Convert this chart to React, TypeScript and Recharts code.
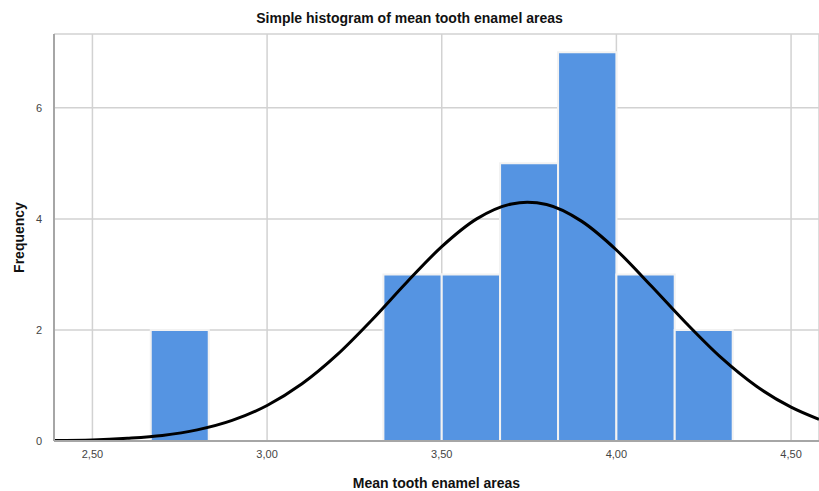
import {
  ComposedChart,
  Line,
  XAxis,
  YAxis,
  CartesianGrid,
  ReferenceArea,
} from "recharts";

// histogram bins (1/6 wide) and their frequencies
const binLow = [2.667, 3.333, 3.5, 3.667, 3.833, 4.0, 4.167];
const binHigh = [2.833, 3.5, 3.667, 3.833, 4.0, 4.167, 4.333];
const binCount = [2, 3, 3, 5, 7, 3, 2];

// normal curve
const curveX = [
  2.39, 2.5, 2.6, 2.7, 2.8, 2.9, 3.0, 3.1, 3.2, 3.3, 3.4, 3.5, 3.6, 3.7,
  3.745, 3.8, 3.9, 4.0, 4.1, 4.2, 4.3, 4.4, 4.5, 4.58,
];
const curveY = [
  0.01, 0.02, 0.05, 0.1, 0.2, 0.37, 0.64, 1.03, 1.55, 2.18, 2.86, 3.5, 4.0,
  4.27, 4.3, 4.26, 3.96, 3.44, 2.79, 2.12, 1.5, 0.99, 0.61, 0.39,
];

const xTicks = [2.5, 3.0, 3.5, 4.0, 4.5];
const yTicks = [0, 2, 4, 6];

const BAR_COLOR = "#5594e2";
const FONT = "'Liberation Sans', Arial, sans-serif";

export default function App() {
  const data = curveX.map((x, i) => ({ x, y: curveY[i] }));

  return (
    <div
      style={{
        position: "absolute",
        left: 0,
        top: 0,
        width: 819,
        height: 491,
        background: "#fff",
        fontFamily: FONT,
      }}
    >
      <div
        style={{
          position: "absolute",
          top: 10,
          left: 0,
          width: 819,
          textAlign: "center",
          fontSize: 14,
          fontWeight: "bold",
          color: "#111",
        }}
      >
        Simple histogram of mean tooth enamel areas
      </div>
      <ComposedChart
        width={819}
        height={491}
        data={data}
        margin={{ top: 34, right: 0, left: 0, bottom: 0 }}
      >
        <CartesianGrid stroke="#d2d2d2" strokeWidth={1.5} />
        <XAxis
          dataKey="x"
          type="number"
          domain={[2.39, 4.58]}
          ticks={xTicks}
          allowDataOverflow
          height={50}
          tickLine={false}
          axisLine={{ stroke: "#a6a6a6", strokeWidth: 2 }}
          tick={{ fontSize: 11, fill: "#444", fontFamily: FONT }}
          tickMargin={3}
          tickFormatter={(v: number) => v.toFixed(2).replace(".", ",")}
          label={{
            value: "Mean tooth enamel areas",
            position: "insideBottom",
            offset: 3,
            style: { fontSize: 14, fontWeight: "bold", fill: "#111", fontFamily: FONT },
          }}
        />
        <YAxis
          type="number"
          domain={[0, 7.33]}
          ticks={yTicks}
          allowDataOverflow
          width={54}
          tickLine={false}
          axisLine={{ stroke: "#a6a6a6", strokeWidth: 2 }}
          tick={{ fontSize: 11, fill: "#444", fontFamily: FONT }}
          tickMargin={6}
          label={{
            value: "Frequency",
            angle: -90,
            position: "insideLeft",
            offset: 19,
            style: {
              fontSize: 14,
              fontWeight: "bold",
              fill: "#111",
              fontFamily: FONT,
              textAnchor: "middle",
            },
          }}
        />
        {binCount.map((c, i) => (
          <ReferenceArea
            key={i}
            x1={binLow[i]}
            x2={binHigh[i]}
            y1={0}
            y2={c}
            fill={BAR_COLOR}
            fillOpacity={1}
            stroke="#f2f2f2"
            strokeWidth={2}
          />
        ))}
        <Line
          dataKey="y"
          type="monotone"
          stroke="#000"
          strokeWidth={3}
          dot={false}
          isAnimationActive={false}
        />
      </ComposedChart>
    </div>
  );
}
